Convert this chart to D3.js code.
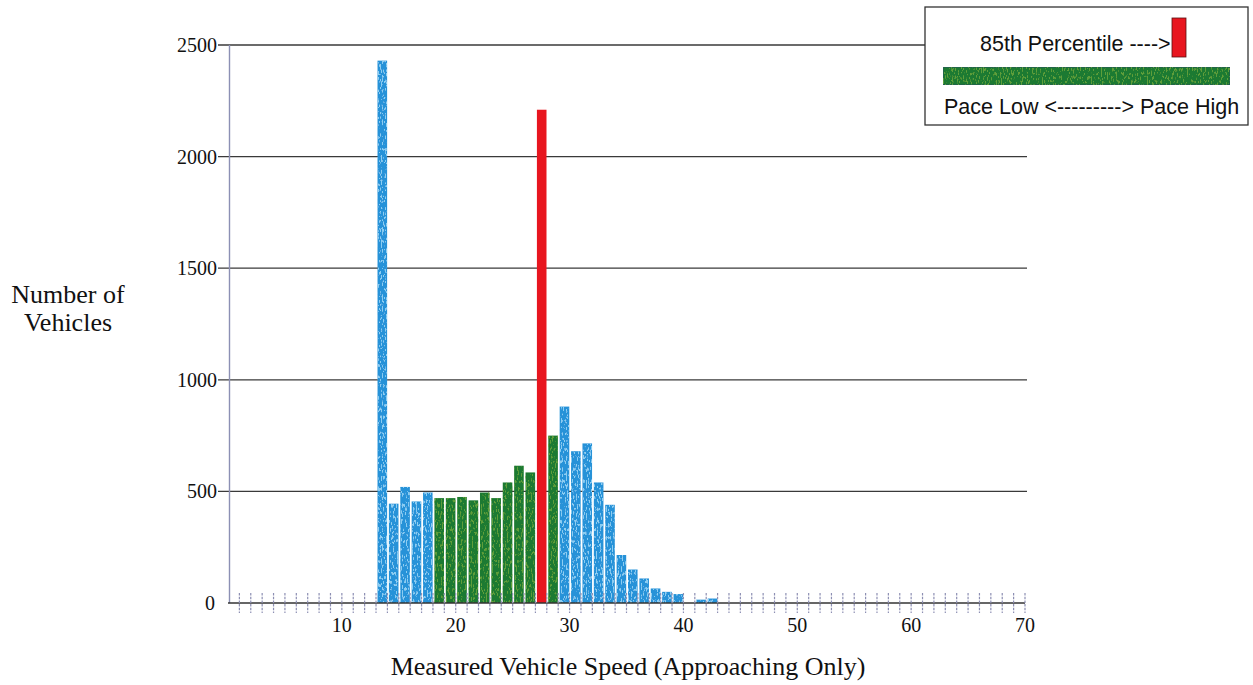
<!DOCTYPE html>
<html>
<head>
<meta charset="utf-8">
<script src="https://cdn.jsdelivr.net/npm/d3@7"></script>
<style>
  html, body { margin: 0; padding: 0; background: #fff; }
  svg { display: block; }
  .serif { font-family: "Liberation Serif", "Times New Roman", serif; fill: #111; }
  .sans  { font-family: "Liberation Sans", Arial, sans-serif; fill: #111; }
</style>
</head>
<body>
<svg id="chart" width="1253" height="685"></svg>
<script>
/* ---- data ---- */
const speeds = [13, 14, 15, 16, 17, 18, 19, 20, 21, 22, 23, 24, 25, 26, 27,
                28, 29, 30, 31, 32, 33, 34, 35, 36, 37, 38, 39, 40, 41, 42];
const counts = [2430, 445, 520, 455, 495, 470, 470, 475, 460, 495, 470, 540, 615, 585, 2210,
                750, 880, 680, 715, 540, 440, 215, 150, 110, 65, 50, 40, 0, 15, 20];
const paceLow = 18, paceHigh = 28;   // green band
const pct85 = 27;                    // red bar
const yTicks = [0, 500, 1000, 1500, 2000, 2500];
const xLabels = [10, 20, 30, 40, 50, 60, 70];

const svg = d3.select("#chart");

const x = d3.scaleLinear().domain([0, 70]).range([228, 1025]);
const y = d3.scaleLinear().domain([0, 2500]).range([603, 45]);

/* ---- speckle textures (scanned look) ---- */
const defs = svg.append("defs");
function speckle(id, light, seed) {
  const f = defs.append("filter").attr("id", id)
    .attr("x", 0).attr("y", 0).attr("width", 1).attr("height", 1);
  f.append("feTurbulence").attr("type", "fractalNoise")
    .attr("baseFrequency", "0.8 0.25").attr("numOctaves", 2).attr("seed", seed).attr("result", "n");
  f.append("feColorMatrix").attr("in", "n").attr("type", "matrix")
    .attr("values", "0 0 0 0 0  0 0 0 0 0  0 0 0 0 0  0 0 0 -12 5.2").attr("result", "m");
  f.append("feFlood").attr("flood-color", light).attr("result", "c");
  f.append("feComposite").attr("in", "c").attr("in2", "m").attr("operator", "in").attr("result", "s");
  f.append("feComposite").attr("in", "s").attr("in2", "SourceGraphic").attr("operator", "in").attr("result", "s2");
  const m = f.append("feMerge");
  m.append("feMergeNode").attr("in", "SourceGraphic");
  m.append("feMergeNode").attr("in", "s2");
}
speckle("tex-blue", "#8ccdf2", 3);
speckle("tex-green", "#5f9e3a", 7);

function barKind(v) {
  if (v === pct85) return "red";
  if (v >= paceLow && v <= paceHigh) return "green";
  return "blue";
}
const fills = { blue: "#2592d8", green: "#1d7a30", red: "#e8161f" };

/* ---- gridlines ---- */
const gGrid = svg.append("g");
gGrid.selectAll("line").data(yTicks.filter(d => d > 0)).join("line")
  .attr("x1", x(0) - 10).attr("x2", x(70) + 2)
  .attr("y1", d => y(d)).attr("y2", d => y(d))
  .attr("stroke", "#3a3a3a").attr("stroke-width", 1.3);

/* y axis vertical line */
svg.append("line")
  .attr("x1", x(0) + 1.5).attr("x2", x(0) + 1.5)
  .attr("y1", y(2500)).attr("y2", y(0))
  .attr("stroke", "#8c90b4").attr("stroke-width", 1.4);

/* ---- bars ---- */
const data = speeds.map((v, i) => ({ v, n: counts[i], kind: barKind(v) }));
svg.append("g").selectAll("rect").data(data.filter(d => d.n > 0)).join("rect")
  .attr("x", d => x(d.v) + 1.5)
  .attr("width", d => x(d.v + 1) - x(d.v) - 1.8)
  .attr("y", d => y(d.n))
  .attr("height", d => y(0) - y(d.n))
  .attr("fill", d => fills[d.kind])
  .attr("filter", d => d.kind === "red" ? null : `url(#tex-${d.kind})`);

/* ---- x axis ---- */
svg.append("line")
  .attr("x1", x(0)).attr("x2", x(70))
  .attr("y1", y(0)).attr("y2", y(0))
  .attr("stroke", "#333").attr("stroke-width", 1.3);

const minor = d3.range(1, 71);
svg.append("g").selectAll("line").data(minor).join("line")
  .attr("x1", d => x(d)).attr("x2", d => x(d))
  .attr("y1", y(0) - 10).attr("y2", y(0) + 10)
  .attr("stroke", "#8d8fb3").attr("stroke-width", 1.2)
  .attr("stroke-dasharray", "2.5,1.2");

svg.append("g").selectAll("text").data(xLabels).join("text")
  .attr("class", "serif")
  .attr("x", d => x(d)).attr("y", 632)
  .attr("text-anchor", "middle").attr("font-size", 20)
  .text(d => d);

/* ---- y labels ---- */
svg.append("g").selectAll("text").data(yTicks).join("text")
  .attr("class", "serif")
  .attr("x", d => d === 0 ? 215 : 217).attr("y", d => y(d))
  .attr("dy", "0.35em")
  .attr("text-anchor", "end").attr("font-size", 20)
  .text(d => d);

/* ---- axis titles ---- */
const yTitle = svg.append("text").attr("class", "serif")
  .attr("text-anchor", "middle").attr("font-size", 26);
yTitle.append("tspan").attr("x", 68).attr("y", 303).text("Number of");
yTitle.append("tspan").attr("x", 68).attr("y", 331).text("Vehicles");

svg.append("text").attr("class", "serif")
  .attr("x", 628).attr("y", 675)
  .attr("text-anchor", "middle").attr("font-size", 26)
  .text("Measured Vehicle Speed (Approaching Only)");

/* ---- legend ---- */
const gLeg = svg.append("g");
gLeg.append("rect")
  .attr("x", 925).attr("y", 7).attr("width", 323).attr("height", 118)
  .attr("fill", "#fff").attr("stroke", "#333").attr("stroke-width", 1.3);
gLeg.append("text").attr("class", "sans")
  .attr("x", 980).attr("y", 51).attr("font-size", 21.5)
  .text("85th Percentile ---->");
gLeg.append("rect")
  .attr("x", 1172).attr("y", 18).attr("width", 14).attr("height", 39)
  .attr("fill", fills.red).attr("stroke", "#5a1010").attr("stroke-width", 0.8);
gLeg.append("rect")
  .attr("x", 943).attr("y", 67).attr("width", 287).attr("height", 18)
  .attr("fill", fills.green).attr("stroke", "#2a4a6a").attr("stroke-width", 0.8)
  .attr("filter", "url(#tex-green)");
gLeg.append("text").attr("class", "sans")
  .attr("x", 944).attr("y", 114).attr("font-size", 21.5)
  .text("Pace Low <---------> Pace High");
</script>
</body>
</html>
